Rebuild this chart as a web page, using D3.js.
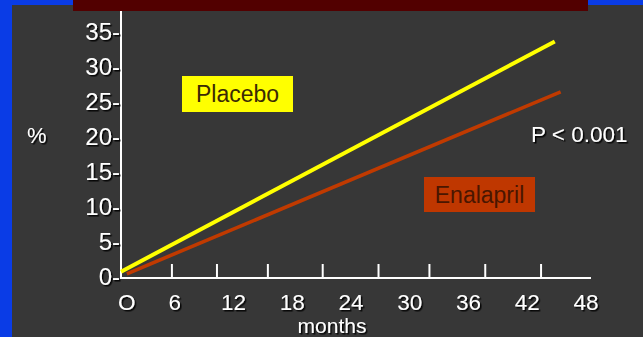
<!DOCTYPE html>
<html>
<head>
<meta charset="utf-8">
<script src="https://cdn.jsdelivr.net/npm/d3@7/dist/d3.min.js"></script>
<style>
  html, body { margin: 0; padding: 0; background: #373737; }
  svg { display: block; }
  text { font-family: "Liberation Sans", Arial, sans-serif; }
</style>
</head>
<body>
<div id="chart"></div>
<script>
// Cumulative event rate (%) over follow-up months, two treatment arms
const monthTicks = [0, 6, 12, 18, 24, 30, 36, 42, 48];
const monthLabels = ["O", "6", "12", "18", "24", "30", "36", "42", "48"];
const minorTickMonths = [5.2, 9.8, 15.0, 20.6, 26.3, 31.5, 37.2, 42.9];
const pctTicks = [0, 5, 10, 15, 20, 25, 30, 35];

const placeboMonths = [0, 44.3];
const placeboPct = [0.9, 33.8];
const enalaprilMonths = [0.6, 44.9];
const enalaprilPct = [0.6, 26.6];

const W = 643, H = 337;
const svg = d3.select("#chart").append("svg").attr("width", W).attr("height", H);

const defs = svg.append("defs");
const shadow = defs.append("filter").attr("id", "shadow")
  .attr("x", "-20%").attr("y", "-20%").attr("width", "140%").attr("height", "140%");
shadow.append("feDropShadow").attr("dx", 1.5).attr("dy", 1.5)
  .attr("stdDeviation", 0.4).attr("flood-color", "#000").attr("flood-opacity", 0.9);

// slide frame
svg.append("rect").attr("width", W).attr("height", H).attr("fill", "#373737");
svg.append("rect").attr("x", 0).attr("y", 0).attr("width", 12).attr("height", H).attr("fill", "#0a3ce6");
svg.append("rect").attr("x", 0).attr("y", 0).attr("width", W).attr("height", 5).attr("fill", "#0a3ce6");
svg.append("rect").attr("x", 73).attr("y", 0).attr("width", 515).attr("height", 11).attr("fill", "#520000");

const x = d3.scaleLinear().domain([0, 48]).range([121, 591]);
const y = d3.scaleLinear().domain([0, 35]).range([278, 33]);

const axisColor = "#ffffff";
const g = svg.append("g");

// axes
g.append("line").attr("x1", x(0)).attr("x2", x(0)).attr("y1", 11).attr("y2", y(0))
  .attr("stroke", axisColor).attr("stroke-width", 2);
g.append("line").attr("x1", x(0) - 1).attr("x2", x(48)).attr("y1", y(0)).attr("y2", y(0))
  .attr("stroke", axisColor).attr("stroke-width", 2);
g.selectAll(".xtick").data(minorTickMonths).enter().append("line")
  .attr("x1", d => x(d)).attr("x2", d => x(d))
  .attr("y1", y(0)).attr("y2", y(0) - 14)
  .attr("stroke", axisColor).attr("stroke-width", 2);

// y tick labels
g.selectAll(".ylab").data(pctTicks).enter().append("text")
  .attr("x", x(0) - 1).attr("y", d => y(d) + 7)
  .attr("text-anchor", "end").attr("font-size", 24).attr("fill", "#fff")
  .attr("filter", "url(#shadow)")
  .text(d => d + "-");

// x tick labels
g.selectAll(".xlab").data(monthTicks).enter().append("text")
  .attr("x", (d, i) => i === 0 ? x(d) - 3 : x(d) - 5)
  .attr("y", 310)
  .attr("text-anchor", (d, i) => i === 0 ? "start" : "middle")
  .attr("font-size", 22.5).attr("fill", "#fff")
  .attr("filter", "url(#shadow)")
  .text((d, i) => monthLabels[i]);

g.append("text").attr("x", 332).attr("y", 333).attr("text-anchor", "middle")
  .attr("font-size", 21).attr("fill", "#fff").attr("filter", "url(#shadow)").text("months");
g.append("text").attr("x", 27).attr("y", 143)
  .attr("font-size", 22).attr("fill", "#fff").attr("filter", "url(#shadow)").text("%");

// event-rate lines
const line = d3.line().x(d => x(d[0])).y(d => y(d[1]));
g.append("path").datum(placeboMonths.map((m, i) => [m, placeboPct[i]]))
  .attr("d", line).attr("fill", "none").attr("stroke", "#ffff00").attr("stroke-width", 4);
g.append("path").datum(enalaprilMonths.map((m, i) => [m, enalaprilPct[i]]))
  .attr("d", line).attr("fill", "none").attr("stroke", "#c03a00").attr("stroke-width", 3.6);

// series labels
g.append("rect").attr("x", 182).attr("y", 76).attr("width", 111).attr("height", 36).attr("fill", "#ffff00");
g.append("text").attr("x", 237.5).attr("y", 101.5).attr("text-anchor", "middle")
  .attr("font-size", 23).attr("fill", "#3a2a05").text("Placebo");

g.append("rect").attr("x", 424).attr("y", 177).attr("width", 111).attr("height", 35).attr("fill", "#bf3700");
g.append("text").attr("x", 479.5).attr("y", 203).attr("text-anchor", "middle")
  .attr("font-size", 23).attr("fill", "#4a1600").text("Enalapril");

g.append("text").attr("x", 531).attr("y", 142)
  .attr("font-size", 22.5).attr("fill", "#fff").attr("filter", "url(#shadow)").text("P < 0.001");
</script>
</body>
</html>
